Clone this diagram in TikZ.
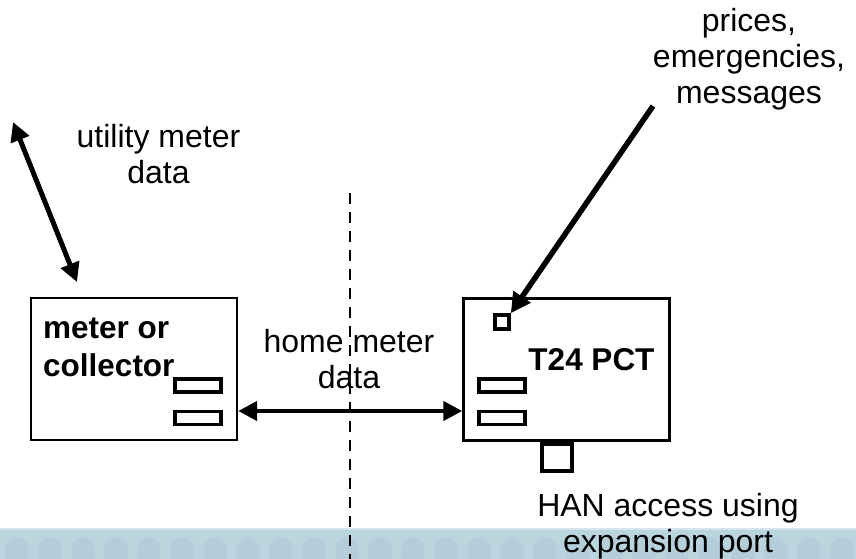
\documentclass[tikz,border=0pt]{standalone}
\usepackage{fontspec}
\setmainfont{Liberation Sans}
\usetikzlibrary{positioning, arrows.meta, calc}

\definecolor{bandblue}{RGB}{187,213,223}
\definecolor{bandspot}{RGB}{179,206,217}
\definecolor{bandedge}{RGB}{214,229,236}

\begin{document}
\begin{tikzpicture}[x=1pt, y=-1pt,
        unit/.style={rectangle, draw=black, line width=2.4pt, minimum width=206pt, minimum height=142pt, inner sep=0pt},
        port/.style={rectangle, draw=black, line width=3.8pt, minimum width=46pt, minimum height=13pt, inner sep=0pt},
        lbl/.style={font=\fontsize{32}{36}\selectfont, align=center, inner sep=0pt},
        boldlbl/.style={lbl, font=\fontsize{31.5}{38}\selectfont\bfseries},
        link/.style={line width=5pt, {Triangle[length=19pt,width=19pt]}-{Triangle[length=19pt,width=19pt]}},
    ]
    \useasboundingbox (0,0) rectangle (856,559);

    % slide background band
    \fill[bandblue] (0,529) rectangle (856,559);
    \foreach \i in {0,...,25}
        \fill[bandspot] (17+33*\i,552) ellipse [x radius=12, y radius=15];
    \fill[bandedge] (0,528) rectangle (856,530);

    % divider
    \coordinate (dtop) at (350,193); \coordinate (dbot) at (350,559);
    \draw[line width=2.6pt, dash pattern=on 11pt off 8pt] (dtop) -- (dbot);

    % units
    \node[unit] (meter) at (134,369) {};
    \node[unit] (pct) at (566.5,369.5) {};

    % labels
    \node[boldlbl, align=left, anchor=base west] (meterlbl) at (43,376) {meter or\\collector};
    \node[boldlbl, anchor=base] (pctlbl) at (591.5,370) {T24 PCT};
    \node[lbl, anchor=base] (utillbl) at (158.5,183) {utility meter\\data};
    \node[lbl, anchor=base] (homelbl) at (349,388) {home meter\\data};
    \node[lbl, anchor=base] (pricelbl) at (749,104) {prices,\\emergencies,\\messages};
    \node[lbl, anchor=base] (hanlbl) at (668,552) {HAN access using\\expansion port};

    % ports
    \node[port] (mport1) at (198,385.5) {}; \node[port] (mport2) at (198,418) {};
    \node[port] (pport1) at (502,385.5) {}; \node[port] (pport2) at (502,418) {};
    \node[rectangle, draw=black, line width=3.6pt, minimum size=14pt, inner sep=0pt] (sq) at (502,322) {};
    \node[rectangle, draw=black, line width=4pt, minimum width=30pt, minimum height=27pt, inner sep=0pt, anchor=north] (exp) at (557,442) {};

    % arrows
    \draw[link, line width=4.2pt] ([yshift=-42pt]meter.east) -- ([yshift=-41.5pt]pct.west);
    \coordinate (utop) at (13,122); \coordinate (ubot) at (77,282);
    \draw[link] (utop) -- (ubot);
    \coordinate (pfrom) at (653,106);
    \draw[line width=5.5pt, -{Triangle[length=20pt,width=20pt]}] (pfrom) -- (sq.north east);
\end{tikzpicture}
\end{document}
